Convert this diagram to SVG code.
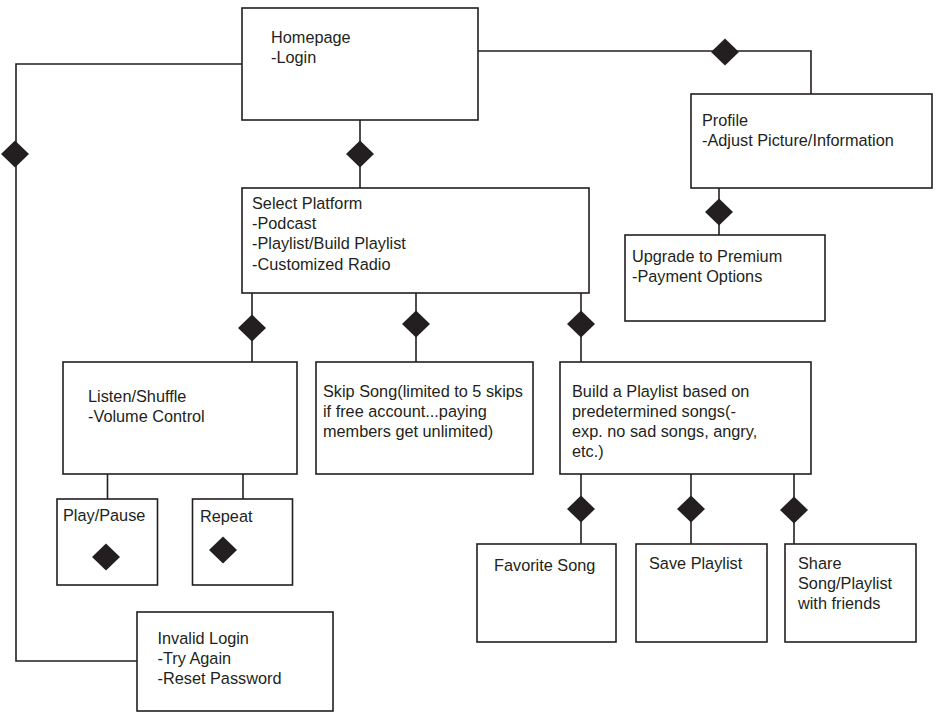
<svg xmlns="http://www.w3.org/2000/svg" width="940" height="720" viewBox="0 0 940 720">
<style>
.box{fill:#fff;stroke:#231f20;stroke-width:1.6}
.ln{fill:none;stroke:#231f20;stroke-width:1.6}
.dm{fill:#231f20;stroke:none}
text{font-family:"Liberation Sans",Arial,sans-serif;font-size:16.3px;fill:#231f20}
</style>
<defs>
<path id="d" d="M0,-13.5 L14,0 L0,13.5 L-14,0 Z"/>
</defs>
<rect width="940" height="720" fill="#fff"/>
<g id="connectors">
<polyline class="ln" points="242,64 16,64 16,661 137,661"/>
<line class="ln" x1="360" y1="120" x2="360" y2="188"/>
<polyline class="ln" points="477,51 811,51 811,94"/>
<line class="ln" x1="719" y1="188" x2="719" y2="235"/>
<line class="ln" x1="252" y1="293" x2="252" y2="362"/>
<line class="ln" x1="416" y1="293" x2="416" y2="362"/>
<line class="ln" x1="581" y1="293" x2="581" y2="362"/>
<line class="ln" x1="107.5" y1="474" x2="107.5" y2="499"/>
<line class="ln" x1="243" y1="474" x2="243" y2="499"/>
<line class="ln" x1="581" y1="474" x2="581" y2="544"/>
<line class="ln" x1="691" y1="474" x2="691" y2="544"/>
<line class="ln" x1="794" y1="474" x2="794" y2="544"/>
<use href="#d" class="dm" x="15" y="154"/>
<use href="#d" class="dm" x="360" y="154"/>
<use href="#d" class="dm" x="725" y="52"/>
<use href="#d" class="dm" x="719" y="212"/>
<use href="#d" class="dm" x="252" y="328"/>
<use href="#d" class="dm" x="416" y="324"/>
<use href="#d" class="dm" x="581" y="324"/>
<use href="#d" class="dm" x="581" y="509"/>
<use href="#d" class="dm" x="691" y="509"/>
<use href="#d" class="dm" x="794" y="510"/>
</g>
<g id="homepage">
<rect class="box" x="242" y="8" width="236" height="112"/>
<text x="271" y="43">Homepage</text>
<text x="271" y="63">-Login</text>
</g>
<g id="profile">
<rect class="box" x="691" y="94" width="241" height="94"/>
<text x="702" y="126">Profile</text>
<text x="702" y="146">-Adjust Picture/Information</text>
</g>
<g id="upgrade">
<rect class="box" x="625" y="235" width="200" height="86"/>
<text x="632" y="262">Upgrade to Premium</text>
<text x="632" y="282">-Payment Options</text>
</g>
<g id="select-platform">
<rect class="box" x="242" y="188" width="347" height="105"/>
<text x="252" y="209">Select Platform</text>
<text x="252" y="229">-Podcast</text>
<text x="252" y="249">-Playlist/Build Playlist</text>
<text x="252" y="270">-Customized Radio</text>
</g>
<g id="listen">
<rect class="box" x="63" y="362" width="234" height="112"/>
<text x="88" y="402">Listen/Shuffle</text>
<text x="88" y="422">-Volume Control</text>
</g>
<g id="skip">
<rect class="box" x="316" y="362" width="217" height="112"/>
<text x="323" y="397">Skip Song(limited to 5 skips</text>
<text x="323" y="417">if free account...paying</text>
<text x="323" y="437">members get unlimited)</text>
</g>
<g id="build">
<rect class="box" x="560" y="362" width="251" height="112"/>
<text x="572" y="397">Build a Playlist based on</text>
<text x="572" y="417">predetermined songs(-</text>
<text x="572" y="437">exp. no sad songs, angry,</text>
<text x="572" y="457">etc.)</text>
</g>
<g id="play-pause">
<rect class="box" x="57" y="499" width="100.5" height="86"/>
<text x="63" y="521">Play/Pause</text>
<use href="#d" class="dm" x="106" y="557"/>
</g>
<g id="repeat">
<rect class="box" x="192.5" y="499" width="100" height="86"/>
<text x="200" y="522">Repeat</text>
<use href="#d" class="dm" x="223" y="550"/>
</g>
<g id="invalid-login">
<rect class="box" x="137" y="612" width="196" height="99"/>
<text x="157.5" y="644">Invalid Login</text>
<text x="157.5" y="664">-Try Again</text>
<text x="157.5" y="684">-Reset Password</text>
</g>
<g id="favorite">
<rect class="box" x="477" y="544" width="139" height="98"/>
<text x="494" y="571">Favorite Song</text>
</g>
<g id="save">
<rect class="box" x="636" y="544" width="131" height="98"/>
<text x="649" y="569">Save Playlist</text>
</g>
<g id="share">
<rect class="box" x="785" y="544" width="131" height="98"/>
<text x="798" y="569">Share</text>
<text x="798" y="589">Song/Playlist</text>
<text x="798" y="609">with friends</text>
</g>
</svg>
